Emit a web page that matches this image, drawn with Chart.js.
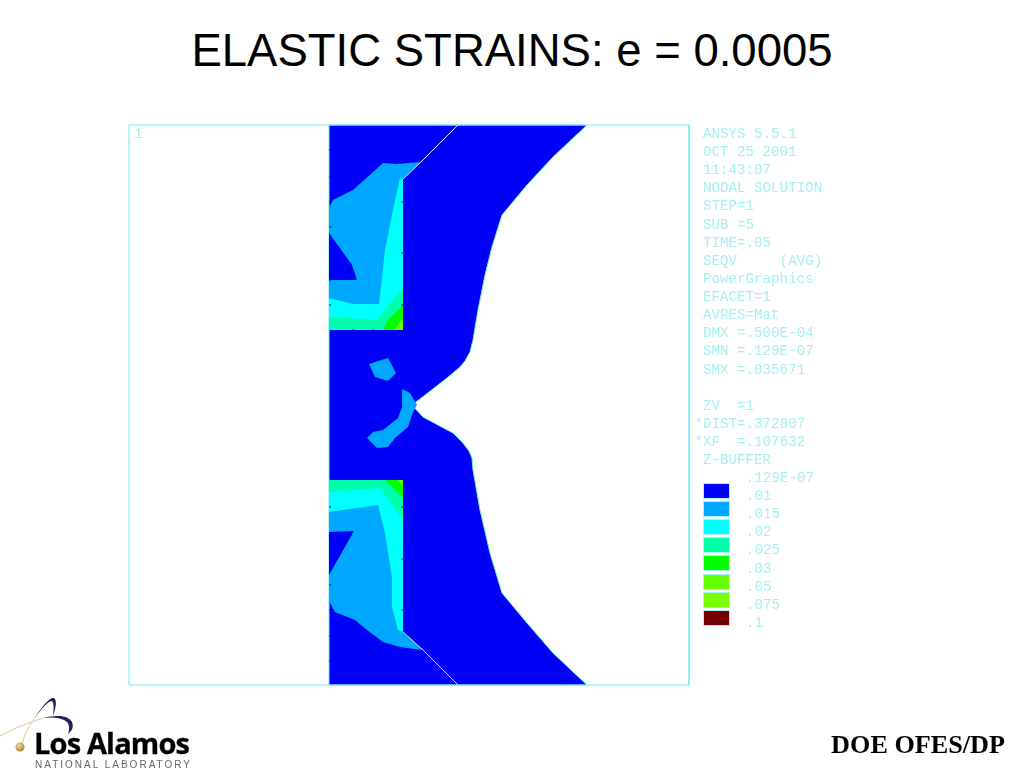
<!DOCTYPE html>
<html>
<head>
<meta charset="utf-8">
<title>ELASTIC STRAINS: e = 0.0005</title>
<script src="https://cdn.jsdelivr.net/npm/chart.js@4"></script>
<style>
    html, body { margin: 0; padding: 0; background: #fff; }
    #page { position: relative; width: 1024px; height: 768px; overflow: hidden; }
    #chart { position: absolute; left: 0; top: 0; }
    h1 {
        position: absolute; left: 0; top: 23px; width: 1024px; margin: 0;
        text-align: center; font: normal 45.5px "Liberation Sans", sans-serif; color: #000; line-height: 56px;
    }
    .ansys {
        position: absolute; white-space: pre; color: #a8efef;
        font: 14.2px/18px "Liberation Mono", monospace;
    }
    .swatch { position: absolute; left: 703px; width: 25px; height: 14px; border: 1px solid #a8f4f4; box-sizing: content-box; }
    #doe {
        position: absolute; right: 19px; top: 730px;
        font: bold 26.2px "Liberation Serif", serif; color: #000;
    }
    #logo { position: absolute; left: 0; top: 690px; }
</style>
</head>
<body>
<div id="page">
    <h1>ELASTIC STRAINS: e = 0.0005</h1>
    <canvas id="chart" width="1024" height="768"></canvas>
    <div id="notes"></div>
    <div id="doe">DOE OFES/DP</div>
    <svg id="logo" width="200" height="78" viewBox="0 690 200 78">
        <defs>
            <radialGradient id="ball" cx="40%" cy="35%" r="70%">
                <stop offset="0" stop-color="#f3dc9a"/>
                <stop offset="1" stop-color="#a8802c"/>
            </radialGradient>
        </defs>
        <path d="M0 736 C15 728 30 722 44 718" fill="none" stroke="#d9c99a" stroke-width="1"/>
        <path d="M44 718 C55 715 68 715 72 722 C74 727 72 731 68 734 C70 728 70 723 64 720 C58 717 50 717 44 718Z" fill="#23205f"/>
        <path d="M22 744 C25 733 29 726 34 719" fill="none" stroke="#d9c99a" stroke-width="1"/>
        <path d="M34 719 C39 711 46 701 52 698 C57 697 57 705 53 716 C54 707 54 701 51 701 C46 703 40 711 34 719Z" fill="#23205f"/>
        <circle cx="20" cy="747" r="4.5" fill="url(#ball)"/>
        <text x="34" y="754" textLength="156" lengthAdjust="spacing" font-family="Open Sans" font-weight="bold" font-size="29" stroke="#000" stroke-width=".3" fill="#000">Los Alamos</text>
        <text x="35" y="768" textLength="155" font-family="Liberation Sans" font-size="10" fill="#666">NATIONAL LABORATORY</text>
    </svg>
</div>
<script>
// model outline and contour bands, in units of the 560 x 560 plot frame
const frameBox = [[0, 0], [560, 0], [560, 560], [0, 560], [0, 0]];
const bodyShape = [[200, 0], [458, 0], [424, 32], [398, 60], [373, 90], [363, 122], [356, 150], [349, 185], [344, 215], [341, 227], [336, 236], [331, 242], [318, 253], [300, 267], [283, 280], [294, 292], [309, 300], [324, 308], [334, 318], [340, 326], [343, 333], [344, 345], [351, 385], [361, 428], [373, 468], [398, 498], [424, 528], [458, 560], [200, 560], [200, 0]];

const slitTop = [[329, 0], [293, 36], [274, 54]];
const slitBottom = [[274, 507], [294, 525], [329, 560]];

const topBand015 = [[254, 38], [268, 39], [292, 37], [274, 54], [274, 205], [200, 205], [200, 83], [204, 75], [224, 65]];
const topPocket = [[200, 108], [223, 140], [228, 155], [200, 155]];
const topBand02 = [[271, 53], [274, 54], [274, 205], [200, 205], [200, 173], [224, 179], [250, 179], [256, 125], [264, 85]];
const topBand025 = [[274, 163], [274, 205], [200, 205], [200, 192], [248, 195], [256, 185]];
const topBand03 = [[274, 180], [274, 205], [254, 205], [259, 195]];
const topBand05 = [[274, 193], [274, 205], [265, 205]];

const lowBand015 = [[200, 355], [274, 355], [274, 507], [294, 525], [271, 522], [254, 517], [238, 505], [226, 495], [206, 487], [200, 476]];
const lowPocket = [[200, 407], [225, 406], [200, 450]];
const lowBand02 = [[200, 355], [274, 355], [274, 507], [269, 505], [263, 482], [263, 453], [256, 408], [249, 380], [200, 387]];
const lowBand025 = [[200, 355], [274, 355], [274, 395], [251, 363], [200, 367]];
const lowBand03 = [[256, 355], [274, 355], [274, 373]];
const lowBand05 = [[269, 355], [274, 355], [274, 361]];

const islandUpper = [[240, 239], [259, 233], [267, 248], [259, 256], [246, 252]];
const islandLower = [[273, 264], [281, 268], [288, 280], [284, 287], [279, 302], [266, 313], [259, 322], [248, 323], [238, 313], [244, 307], [254, 305], [269, 293], [273, 282], [273, 272]];

const edgeTicks = [[201, 25], [201, 52], [201, 77], [201, 102], [201, 128], [201, 155], [201, 180], [224, 205], [244, 205], [273, 77], [273, 128], [273, 180], [201, 382], [201, 408], [201, 434], [201, 460], [201, 485], [201, 511], [201, 536], [273, 382], [273, 434], [273, 485]];

const infoLines = ['ANSYS 5.5.1', 'OCT 25 2001', '11:43:07', 'NODAL SOLUTION', 'STEP=1', 'SUB =5', 'TIME=.05', 'SEQV     (AVG)', 'PowerGraphics', 'EFACET=1', 'AVRES=Mat', 'DMX =.500E-04', 'SMN =.129E-07', 'SMX =.035671', '', 'ZV  =1', '*DIST=.372807', '*XF  =.107632', 'Z-BUFFER'];
const levelLabels = ['.129E-07', '.01', '.015', '.02', '.025', '.03', '.05', '.075', '.1'];
const levelColors = ['#0000f4', '#00a8ff', '#00ffff', '#00ffaa', '#00ff00', '#66ff00', '#78ff00', '#780000'];

const BLUE = levelColors[0], SKY = levelColors[1], CYAN = levelColors[2], SEA = levelColors[3], GREEN = levelColors[4], LIME = levelColors[5];
const EDGE = '#70ecf4';

const toPoints = arr => arr.map(p => ({ x: p[0], y: p[1] }));

// bottom layer first
const layers = [
    { data: bodyShape, fill: BLUE, line: EDGE },
    { data: topBand015, fill: SKY },
    { data: topPocket, fill: BLUE },
    { data: topBand02, fill: CYAN },
    { data: topBand025, fill: SEA },
    { data: topBand03, fill: GREEN },
    { data: topBand05, fill: LIME },
    { data: lowBand015, fill: SKY },
    { data: lowPocket, fill: BLUE },
    { data: lowBand02, fill: CYAN },
    { data: lowBand025, fill: SEA },
    { data: lowBand03, fill: GREEN },
    { data: lowBand05, fill: LIME },
    { data: islandUpper, fill: SKY },
    { data: islandLower, fill: SKY },
    { data: slitTop, line: '#d8e8ff' },
    { data: slitBottom, line: '#d8e8ff' },
    { data: frameBox, line: EDGE }
];

const datasets = layers.map((layer, i) => ({
    data: toPoints(layer.data),
    showLine: true,
    pointRadius: 0,
    borderWidth: 1,
    borderColor: layer.line || 'transparent',
    backgroundColor: layer.fill || 'transparent',
    polygonFill: layer.fill,
    order: layers.length - i + 1,
    clip: 2
}));

datasets.push({
    data: toPoints(edgeTicks),
    showLine: false,
    pointStyle: 'circle',
    pointRadius: 0.8,
    borderWidth: 0,
    backgroundColor: '#0000b0',
    order: 0
});

// closes each dataset's line into a filled shape
const polygonFill = {
    id: 'polygonFill',
    beforeDatasetDraw(chart, args) {
        const color = chart.data.datasets[args.index].polygonFill;
        if (!color) return;
        const { ctx } = chart;
        ctx.save();
        ctx.fillStyle = color;
        ctx.beginPath();
        args.meta.data.forEach((pt, i) => {
            if (i === 0) ctx.moveTo(pt.x, pt.y);
            else ctx.lineTo(pt.x, pt.y);
        });
        ctx.closePath();
        ctx.fill();
        ctx.restore();
    }
};

new Chart(document.getElementById('chart'), {
    type: 'scatter',
    data: { datasets },
    options: {
        responsive: false,
        animation: false,
        layout: { padding: { left: 129, top: 125, right: 335, bottom: 83 } },
        plugins: { legend: false, tooltip: false, title: false },
        scales: {
            x: { type: 'linear', min: 0, max: 560, display: false },
            y: { type: 'linear', min: 0, max: 560, reverse: true, display: false }
        }
    },
    plugins: [polygonFill]
});

// text column and colour key beside the plot
const notes = document.getElementById('notes');
const addText = (text, x, y) => {
    const el = document.createElement('div');
    el.className = 'ansys';
    el.textContent = text;
    el.style.left = x + 'px';
    el.style.top = y + 'px';
    notes.appendChild(el);
};
addText('1', 134, 125);
infoLines.forEach((line, i) => {
    if (line) addText(line, line[0] === '*' ? 694.5 : 703, 125 + i * 18.12);
});
levelLabels.forEach((label, i) => addText(label, 746, 469 + i * 18.12));
levelColors.forEach((color, i) => {
    const el = document.createElement('div');
    el.className = 'swatch';
    el.style.background = color;
    el.style.top = (483 + i * 18.12) + 'px';
    notes.appendChild(el);
});
</script>
</body>
</html>
